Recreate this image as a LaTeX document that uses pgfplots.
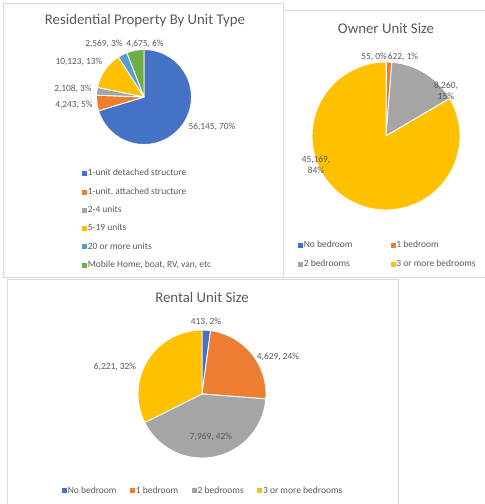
\documentclass[border=0pt]{standalone}
\usepackage{pgfplots}
\pgfplotsset{compat=1.18}
\usepackage{fontspec}
\setmainfont{Carlito}

\definecolor{pblue}{HTML}{4472C4}
\definecolor{porange}{HTML}{ED7D31}
\definecolor{pgray}{HTML}{A5A5A5}
\definecolor{pgold}{HTML}{FFC000}
\definecolor{plblue}{HTML}{5B9BD5}
\definecolor{pgreen}{HTML}{70AD47}
\definecolor{txt}{HTML}{595959}
\definecolor{frame}{HTML}{D9D9D9}

% pie: centre x, centre y, radius (pt), list of value/colour
\newcommand\pie[4]{%
  \gdef\tot{0}%
  \foreach \v/\c in {#4} {\xdef\tot{\fpeval{\tot+\v}}}%
  \gdef\cum{0}%
  \foreach \v/\c in {#4} {%
    \edef\aa{\fpeval{90-360*\cum/\tot}}%
    \xdef\cum{\fpeval{\cum+\v}}%
    \edef\ab{\fpeval{90-360*\cum/\tot}}%
    \fill[\c, draw=white, line width=0.9pt, line join=round]
      (axis cs:#1,#2) -- ++(\aa:#3pt) arc[start angle=\aa, end angle=\ab, radius=#3pt] -- cycle;
  }%
}

\pgfplotsset{
  panel/.style={
    at={(0pt,0pt)}, anchor=south west,
    x=1pt, y=1pt, xmin=0, xmax=485, ymin=0, ymax=504, y dir=reverse,
    hide axis, clip=false,
    legend cell align=left,
    legend image code/.code={\fill[##1] (0pt,-2pt) rectangle (4pt,2pt);},
    legend style={draw=none, fill=none, text=txt, anchor=north west,
      font=\fontsize{9.5}{10}\selectfont,
      nodes={inner sep=1.2pt, font=\fontsize{9.5}{10}\selectfont}},
  },
}
\tikzset{
  lab/.style={text=txt, font=\fontsize{9.4}{10.5}\selectfont, align=center, inner sep=0pt},
  ttl/.style={text=txt, font=\fontsize{14.8}{16}\selectfont, inner sep=0pt},
}

\begin{document}
\begin{tikzpicture}
\useasboundingbox (0,0) rectangle (485pt,504pt);

% residential property by unit type
\begin{axis}[panel,
  legend style={at={(axis cs:79,166)}, row sep=7.8pt}]
\draw[frame, line width=0.8pt] (axis cs:3,3) rectangle (axis cs:283,277);
\addlegendimage{pblue}\addlegendentry{1-unit detached structure}
\addlegendimage{porange}\addlegendentry{1-unit, attached structure}
\addlegendimage{pgray}\addlegendentry{2-4 units}
\addlegendimage{pgold}\addlegendentry{5-19 units}
\addlegendimage{plblue}\addlegendentry{20 or more units}
\addlegendimage{pgreen}\addlegendentry{Mobile Home, boat, RV, van, etc}
\pgfplotsextra{\pie{144}{97}{47.5}{56145/pblue, 4243/porange, 2108/pgray, 10123/pgold, 2569/plblue, 4675/pgreen}}
\node[ttl] at (axis cs:145,21) {Residential Property By Unit Type};
\node[lab] at (axis cs:212,127) {56,145, 70\%};
\node[lab] at (axis cs:74,105) {4,243, 5\%};
\node[lab] at (axis cs:73,89) {2,108, 3\%};
\node[lab] at (axis cs:79,62) {10,123, 13\%};
\node[lab] at (axis cs:104,44) {2,569, 3\%};
\node[lab] at (axis cs:145,44) {4,675, 6\%};
\end{axis}

% owner unit size
\begin{axis}[panel, legend columns=2,
  legend style={at={(axis cs:295,238)}, row sep=7.8pt,
    /tikz/every even column/.append style={column sep=37pt}}]
\draw[frame, line width=0.8pt] (axis cs:283,277) -- (axis cs:283,10) -- (axis cs:490,10);
\draw[frame, line width=0.8pt] (axis cs:283,277.5) -- (axis cs:490,277.5);
\addlegendimage{pblue}\addlegendentry{No bedroom}
\addlegendimage{porange}\addlegendentry{1 bedroom}
\addlegendimage{pgray}\addlegendentry{2 bedrooms}
\addlegendimage{pgold}\addlegendentry{3 or more bedrooms}
\pgfplotsextra{\pie{386}{136}{74}{55/pblue, 622/porange, 8260/pgray, 45169/pgold}}
\node[ttl] at (axis cs:386,28) {Owner Unit Size};
\node[lab] at (axis cs:374,57) {55, 0\%};
\node[lab] at (axis cs:403,57) {622, 1\%};
\node[lab] at (axis cs:446,91) {8,260,\\15\%};
\node[lab] at (axis cs:316,165) {45,169,\\84\%};
\end{axis}

% rental unit size
\begin{axis}[panel, legend columns=4,
  legend style={at={(axis cs:59,483)},
    /tikz/every even column/.append style={column sep=12.5pt}}]
\draw[frame, line width=0.8pt] (axis cs:7,510) -- (axis cs:7,279) -- (axis cs:398,279) -- (axis cs:398,510);
\addlegendimage{pblue}\addlegendentry{No bedroom}
\addlegendimage{porange}\addlegendentry{1 bedroom}
\addlegendimage{pgray}\addlegendentry{2 bedrooms}
\addlegendimage{pgold}\addlegendentry{3 or more bedrooms}
\pgfplotsextra{\pie{202}{394}{64}{413/pblue, 4629/porange, 7969/pgray, 6221/pgold}}
\node[ttl] at (axis cs:202,297) {Rental Unit Size};
\node[lab] at (axis cs:206,322) {413, 2\%};
\node[lab] at (axis cs:278,357) {4,629, 24\%};
\node[lab] at (axis cs:211,437) {7,969, 42\%};
\node[lab] at (axis cs:115,367) {6,221, 32\%};
\end{axis}
\end{tikzpicture}
\end{document}
